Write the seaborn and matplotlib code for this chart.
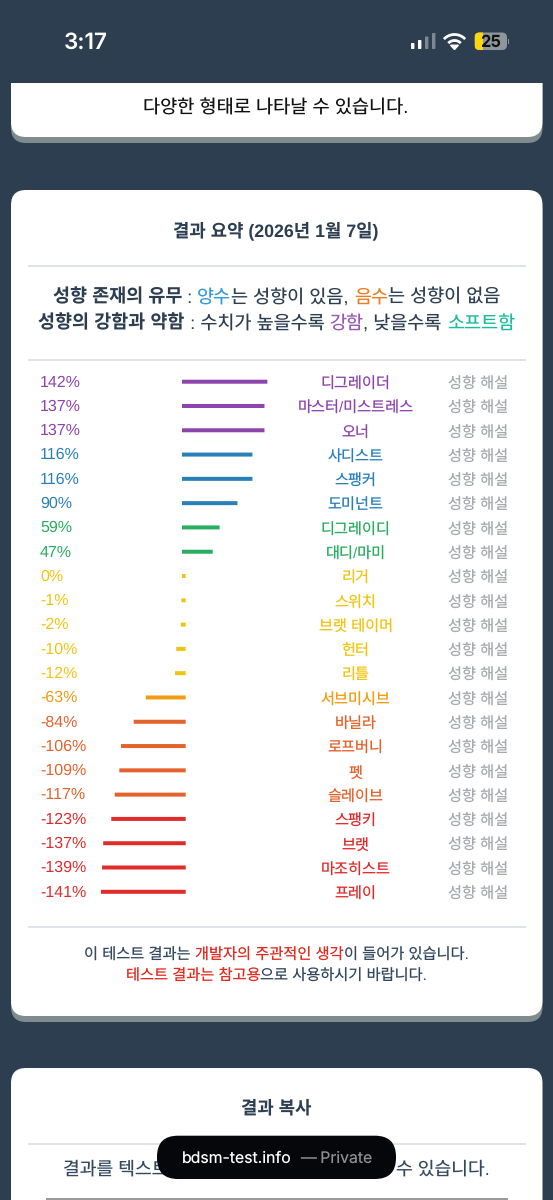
import numpy as np
import pandas as pd
import seaborn as sns
import matplotlib
matplotlib.use("Agg")
import matplotlib.pyplot as plt
from matplotlib.patches import FancyBboxPatch, Rectangle

names = ["디그레이더", "마스터/미스트레스", "오너", "사디스트", "스팽커", "도미넌트",
         "디그레이디", "대디/마미", "리거", "스위치", "브랫 테이머", "헌터", "리틀",
         "서브미시브", "바닐라", "로프버니", "펫", "슬레이브", "스팽키", "브랫",
         "마조히스트", "프레이"]
values = [142, 137, 137, 116, 116, 90, 59, 47, 0, -1, -2, -10, -12,
          -63, -84, -106, -109, -117, -123, -137, -139, -141]
groups = ["purple", "purple", "purple", "blue", "blue", "blue", "green", "green",
          "yellow", "yellow", "yellow", "yellow", "yellow", "amber",
          "orange", "orange", "orange", "orange", "red", "red", "red", "red"]
group_colors = {"purple": "#8e44ad", "blue": "#2980b9", "green": "#27ae60",
                "yellow": "#f1c40f", "amber": "#f39c12", "orange": "#e4622b",
                "red": "#e02b2b"}
hint_label = "성향 해설"

BG = "#2c3e50"
DARK = "#2c3e50"
SOFT = "#34495e"
ALERT = "#e02b20"
CARD_SHADOW = "#7f8c8d"
RULE = "#dfe2e6"

sns.set_theme(style="white")
plt.rcParams["font.family"] = ["Liberation Sans", "Noto Sans CJK KR", "DejaVu Sans"]
plt.rcParams["text.hinting"] = "no_hinting"

W, H = 553, 1200
fig = plt.figure(figsize=(W / 100, H / 100), dpi=100, facecolor=BG)
page = fig.add_axes([0, 0, 1, 1], zorder=1)
page.set_xlim(0, W)
page.set_ylim(H, 0)
page.axis("off")
renderer = fig.canvas.get_renderer()


def px(size):
    return size * 0.72


def label(x, y, s, size, color, ha="center", weight="normal", z=4, **kw):
    # y is the visual middle of the glyphs, so mixed runs share one baseline
    return page.text(x, y + 0.36 * size, s, color=color, fontsize=px(size), fontweight=weight,
                     ha=ha, va="baseline", zorder=z, **kw)


def card(top, bottom, shadow=True):
    if shadow:
        page.add_patch(FancyBboxPatch((11, top + 6), 531.5, bottom - top, boxstyle="round,pad=0,rounding_size=15",
                                      fc=CARD_SHADOW, ec="none", zorder=1))
    page.add_patch(FancyBboxPatch((11, top), 531.5, bottom - top, boxstyle="round,pad=0,rounding_size=15",
                                  fc="white", ec="none", zorder=2))


def rule(y, x0=28, x1=525.5, color=RULE):
    page.plot([x0, x1], [y, y], color=color, lw=1.4, solid_capstyle="butt", zorder=3)


def text_width(s, size, weight):
    probe = page.text(0, 0, s + ".", fontsize=px(size), fontweight=weight)
    dot = page.text(0, 0, ".", fontsize=px(size), fontweight=weight)
    w = probe.get_window_extent(renderer).width - dot.get_window_extent(renderer).width
    probe.remove()
    dot.remove()
    return w


def runs(y, parts, size, xc=276.5):
    # parts: (text, colour, weight), laid out left to right around xc
    widths = [text_width(s, size, w) for s, _, w in parts]
    x = xc - sum(widths) / 2
    for (s, c, w), dx in zip(parts, widths):
        label(x, y, s, size, c, ha="left", weight=w)
        x += dx


# cards
card(30, 137)
page.add_patch(Rectangle((0, 0), W, 83, fc=BG, ec="none", zorder=3))
card(190, 1016)
card(1068, 1300, shadow=False)

# status bar
label(85.5, 41, "3:17", 22.5, "white", weight="semibold", z=5, family=["Inter"])
for bx, bh, col in zip([411, 418, 425, 432], [6, 9, 12.5, 16],
                       ["white", "white", "#7d8894", "#7d8894"]):
    page.add_patch(FancyBboxPatch((bx, 49 - bh), 3.4, bh, boxstyle="round,pad=0,rounding_size=0.8",
                                  fc=col, ec="none", zorder=5))
theta = np.radians(np.linspace(43, 137, 30))
for r in [8.5, 14.5]:
    page.plot(454.5 + r * np.cos(theta), 49 - r * np.sin(theta), color="white", lw=2.0,
              solid_capstyle="butt", zorder=5)
page.fill([454.5, 450.6, 458.4], [49.5, 45.2, 45.2], color="white", zorder=5)
page.add_patch(FancyBboxPatch((474.5, 32.5), 32.5, 17.5, boxstyle="round,pad=0,rounding_size=5",
                              fc="#8e959c", ec="none", zorder=5))
batt = FancyBboxPatch((474.5, 32.5), 32.5, 17.5, boxstyle="round,pad=0,rounding_size=5",
                      fc="#ffd60a", ec="none", zorder=6)
page.add_patch(batt)
batt.set_clip_path(Rectangle((474.5, 30), 8.5, 22, transform=page.transData))
page.add_patch(Rectangle((508, 38.5), 1.4, 5.5, fc="#8e959c", ec="none", zorder=5))
label(490.5, 41.3, "25", 16.5, "#111111", weight="bold", z=7, family=["Inter"])

# previous card tail
label(276, 107, "다양한 형태로 나타날 수 있습니다.", 18.6, "#111111")

# summary card header
label(276, 230, "결과 요약 (2026년 1월 7일)", 17.8, DARK, weight="bold")
rule(266.3)
runs(296, [("성향 존재의 유무", DARK, "bold"), (" : ", DARK, "normal"), ("양수", "#3498db", "normal"),
           ("는 성향이 있음, ", DARK, "normal"), ("음수", "#e67e22", "normal"),
           ("는 성향이 없음", DARK, "normal")], 18.5)
runs(321.7, [("성향의 강함과 약함", DARK, "bold"), (" : 수치가 높을수록 ", DARK, "normal"),
             ("강함", "#9b59b6", "normal"), (", 낮을수록 ", DARK, "normal"),
             ("소프트함", "#1abc9c", "normal")], 18.5)
rule(360)

# bars: 0.575 px per percent, zero at x=182, row pitch 24.29 px
df = pd.DataFrame({"name": names, "value": values, "group": groups})
row0, pitch = 381.7, 24.29
n = len(names)
scale = 0.575
pad = 3.7 / scale
ax_top = row0 - pitch / 2
ax_h = pitch * n
ax = fig.add_axes([0, 1 - (ax_top + ax_h) / H, 1, ax_h / H], zorder=2)
ax.patch.set_alpha(0)
sns.barplot(data=df, x="value", y="name", hue="group", palette=group_colors, dodge=False, legend=False,
            width=0.165, order=names, ax=ax, linewidth=0, saturation=1)
for bar in ax.patches:
    w = bar.get_width()
    if w < 0:
        bar.set_x(pad)
        bar.set_width(w - pad)
    else:
        bar.set_width(w + pad)
    bar.set_snap(False)
ax.set_xlim(-182 / scale, (W - 182) / scale)
ax.set_ylim(n - 0.5, -0.5)
ax.axis("off")

for i, (name, v, g) in enumerate(zip(names, values, groups)):
    y = row0 + pitch * i
    col = group_colors[g]
    label(40, y - 1, f"{v}%", 16, col, ha="left")
    label(355.7, y + 1.6, name, 15.2, col)
    label(477.7, y + 1.6, hint_label, 15.2, "#a6aaae")

# footer
rule(927)
runs(954, [("이 테스트 결과는 ", SOFT, "normal"), ("개발자의 주관적인 생각", ALERT, "normal"),
           ("이 들어가 있습니다.", SOFT, "normal")], 15.25)
runs(975.7, [("테스트 결과는 참고용", ALERT, "normal"), ("으로 사용하시기 바랍니다.", SOFT, "normal")], 15.25)

# copy card
label(276, 1107, "결과 복사", 17.8, DARK, weight="bold")
rule(1144.3)
label(63, 1168, "결과를 텍스트", 18.2, SOFT, ha="left")
label(490, 1168, "수 있습니다.", 18.2, SOFT, ha="right")
rule(1199, 46, 508, "#999999")

# browser pill
page.add_patch(FancyBboxPatch((157, 1135.7), 239, 43.3, boxstyle="round,pad=0,rounding_size=21",
                              fc="#05070a", ec="none", zorder=8))
label(182, 1157.5, "bdsm-test.info", 15.8, "white", ha="left", z=9, family=["Inter"])
label(300, 1157.5, "— Private", 15.8, "#8e8e93", ha="left", z=9, family=["Inter"])

fig.savefig("out.png", dpi=100, facecolor=BG)
